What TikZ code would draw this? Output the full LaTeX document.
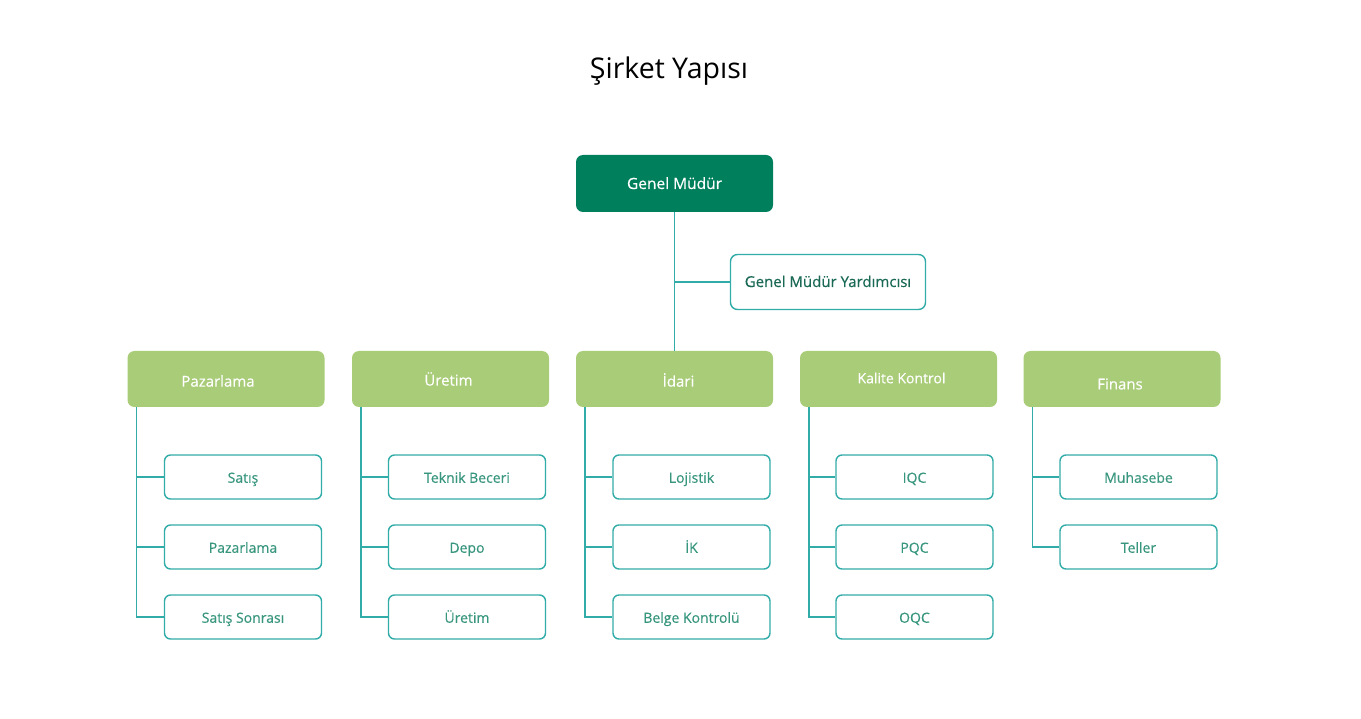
\documentclass[tikz,border=0pt]{standalone}
\usepackage{fontspec}
\setmainfont{Open Sans}
\newfontfamily\medfont[FakeBold=0.35]{Open Sans}
\definecolor{dkgreen}{RGB}{0,127,93}
\definecolor{ltgreen}{RGB}{169,204,120}
\definecolor{teal}{RGB}{50,172,168}
\definecolor{childtxt}{RGB}{55,150,125}
\definecolor{asttxt}{RGB}{25,105,85}
\begin{document}
\begin{tikzpicture}[x=1pt,y=-1pt,
  top/.style={draw=none,fill=dkgreen,rounded corners=7pt,minimum width=197pt,minimum height=57pt,inner sep=0pt,text=white,font=\medfont\fontsize{15.5}{16}\selectfont,text height=1.2em,text depth=0.1em},
  asst/.style={draw=teal,line width=1.4pt,fill=white,rounded corners=7pt,minimum width=195pt,minimum height=55pt,inner sep=0pt,text=asttxt,font=\medfont\fontsize{15}{16}\selectfont,text height=1.1em,text depth=0.1em},
  dept/.style={draw=none,fill=ltgreen,rounded corners=7pt,minimum width=197pt,minimum height=56pt,inner sep=0pt},
  depttext/.style={inner sep=0pt,text=white,font=\medfont\fontsize{15}{16}\selectfont},
  child/.style={draw=teal,line width=1.4pt,fill=white,rounded corners=6pt,minimum width=157pt,minimum height=44pt,inner sep=0pt,text=childtxt,font=\medfont\fontsize{14}{16}\selectfont,text height=1.25em,text depth=0.1em},
  conn/.style={draw=teal,line width=1.6pt}]
\useasboundingbox (0,0) rectangle (1361,719);
\node[font=\fontsize{28.5}{32}\selectfont,text=black] (title) at (669,71) {Şirket Yapısı};

\node[top] (gm) at (674.5,183.5) {Genel Müdür};
\node[asst] (gmy) at (828,282) {Genel Müdür Yardımcısı};

\node[dept] (pz) at (226,379) {};
\node[dept] (ur) at (450.5,379) {};
\node[dept] (id) at (674.5,379) {};
\node[dept] (kk) at (898.5,379) {};
\node[dept] (fn) at (1122,379) {};
\node[depttext] (pzt) at ([xshift=-8pt,yshift=-2pt]pz.center) {Pazarlama};
\node[depttext] (urt) at ([xshift=-2pt,yshift=0pt]ur.center) {Üretim};
\node[depttext] (idt) at ([xshift=4pt,yshift=-1pt]id.center) {İdari};
\node[depttext,font=\medfont\fontsize{14}{16}\selectfont] (kkt) at ([xshift=3pt,yshift=1pt]kk.center) {Kalite Kontrol};
\node[depttext] (fnt) at ([xshift=-2pt,yshift=-5pt]fn.center) {Finans};

\node[child] (pz1) at (243,477) {Satış};
\node[child] (pz2) at (243,547) {Pazarlama};
\node[child] (pz3) at (243,617) {Satış Sonrası};
\node[child] (ur1) at (467,477) {Teknik Beceri};
\node[child] (ur2) at (467,547) {Depo};
\node[child] (ur3) at (467,617) {Üretim};
\node[child] (id1) at (691.5,477) {Lojistik};
\node[child] (id2) at (691.5,547) {İK};
\node[child] (id3) at (691.5,617) {Belge Kontrolü};
\node[child] (kk1) at (914.5,477) {IQC};
\node[child] (kk2) at (914.5,547) {PQC};
\node[child] (kk3) at (914.5,617) {OQC};
\node[child] (fn1) at (1138.5,477) {Muhasebe};
\node[child] (fn2) at (1138.5,547) {Teller};

\draw[conn] (gm.south) -- (id.north);
\draw[conn] (gm.south |- gmy.west) -- (gmy.west);

\foreach \p/\cs in {pz/{pz1,pz2,pz3},ur/{ur1,ur2,ur3},id/{id1,id2,id3},kk/{kk1,kk2,kk3},fn/{fn1,fn2}}{
  \foreach \c in \cs {
    \draw[conn] ([xshift=9pt]\p.south west) |- (\c.west);
  }
}
\end{tikzpicture}
\end{document}
